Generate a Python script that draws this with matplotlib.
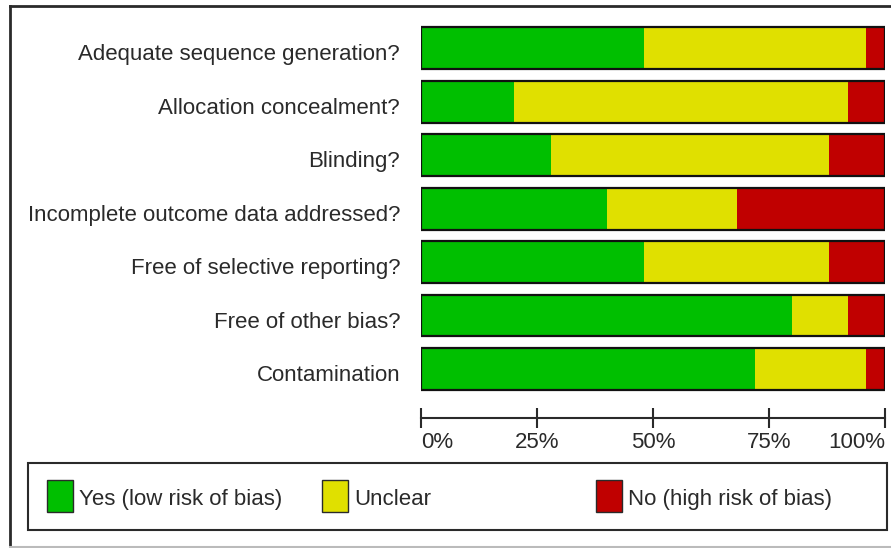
import matplotlib
matplotlib.use('Agg')
import matplotlib.pyplot as plt
from matplotlib import font_manager
from matplotlib.patches import Rectangle
from matplotlib.lines import Line2D
from matplotlib.transforms import ScaledTranslation

# risk of bias summary, percent of studies per domain
domains = ['Adequate sequence generation?', 'Allocation concealment?', 'Blinding?',
           'Incomplete outcome data addressed?', 'Free of selective reporting?',
           'Free of other bias?', 'Contamination']
low_risk = [48, 20, 28, 40, 48, 80, 72]
unclear = [48, 72, 60, 28, 40, 12, 24]
high_risk = [4, 8, 12, 32, 12, 8, 4]

legend_labels = ['Yes (low risk of bias)', 'Unclear', 'No (high risk of bias)']
tick_values = [0, 25, 50, 75, 100]
tick_labels = ['0%', '25%', '50%', '75%', '100%']

GREEN = '#00BF00'
YELLOW = '#E0E000'
RED = '#C00000'
INK = '#2a2a2a'

names = {f.name for f in font_manager.fontManager.ttflist}
family = 'Liberation Sans Narrow' if 'Liberation Sans Narrow' in names else 'Liberation Sans'
plt.rcParams['font.family'] = [family, 'DejaVu Sans']

W, H = 891, 548
fig = plt.figure(figsize=(W / 100, H / 100), dpi=100)


def fx(px):
    return px / W


def fy(py):
    return 1 - py / H


# plot area
ax = fig.add_axes([fx(421), fy(418), fx(885) - fx(421), fy(21) - fy(418)])
ypos = list(range(len(domains)))
left2 = [a + b for a, b in zip(low_risk, unclear)]
ax.barh(ypos, low_risk, height=0.785, color=GREEN, linewidth=0)
ax.barh(ypos, unclear, left=low_risk, height=0.785, color=YELLOW, linewidth=0)
ax.barh(ypos, high_risk, left=left2, height=0.785, color=RED, linewidth=0)
totals = [a + b + c for a, b, c in zip(low_risk, unclear, high_risk)]
ax.barh(ypos, totals, height=0.785, fill=False, edgecolor='#111111', linewidth=1.6)

ax.set_xlim(0, 100)
ax.set_ylim(len(domains) - 1 + 0.916, -0.505)
for s in ['top', 'right', 'left']:
    ax.spines[s].set_visible(False)
ax.spines['bottom'].set_linewidth(1.5)
ax.spines['bottom'].set_color(INK)

ax.set_yticks(ypos)
ax.set_yticklabels(domains, fontsize=16, color=INK)
ax.tick_params(axis='y', length=0, pad=15)
shift = ScaledTranslation(0, -4 / 100, fig.dpi_scale_trans)
for lab in ax.get_yticklabels():
    lab.set_transform(lab.get_transform() + shift)

ax.set_xticks(tick_values)
ax.set_xticklabels(tick_labels, fontsize=16, color=INK)
ax.tick_params(axis='x', direction='inout', length=14.4, width=1.5, color=INK, pad=3)
xl = ax.get_xticklabels()
xl[0].set_ha('left')
xl[-1].set_ha('right')

# outer frame
fig.add_artist(Line2D([fx(10), fx(10)], [fy(6), fy(547)], color=INK, lw=2))
fig.add_artist(Line2D([fx(10), 1], [fy(6), fy(6)], color=INK, lw=2))
fig.add_artist(Line2D([fx(10), 1], [fy(547), fy(547)], color='#bbbbbb', lw=1.5))

# legend box
fig.add_artist(Rectangle((fx(28), fy(530)), fx(887) - fx(28), fy(463) - fy(530),
                         fill=False, edgecolor=INK, lw=1.5))
patch_x = [47, 322, 596]
colors = [GREEN, YELLOW, RED]
for px, c, lab in zip(patch_x, colors, legend_labels):
    fig.add_artist(Rectangle((fx(px), fy(512)), fx(26), fy(480) - fy(512),
                             facecolor=c, edgecolor=INK, lw=1))
    fig.text(fx(px + 32), fy(497), lab, fontsize=16, color=INK,
             va='center_baseline', ha='left')

fig.savefig('out.png', dpi=100, facecolor='white')
